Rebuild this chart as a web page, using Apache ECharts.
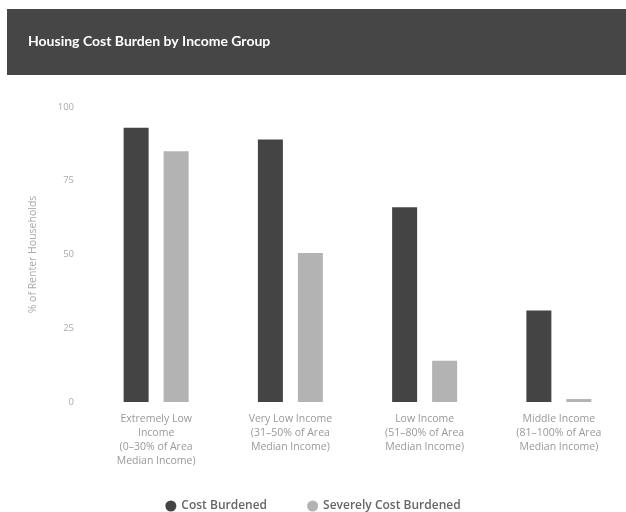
<!DOCTYPE html>
<html>
<head>
<meta charset="utf-8">
<script src="https://cdn.jsdelivr.net/npm/echarts@6/dist/echarts.min.js"></script>
<style>
  html, body { margin: 0; padding: 0; background: #fff; }
  #chart { width: 626px; height: 512px; }
</style>
</head>
<body>
<div id="chart"></div>
<script>
  // income groups along the x axis
  var categories = [
    'Extremely Low\nIncome\n(0\u201330% of Area\nMedian Income)',
    'Very Low Income\n(31\u201350% of Area\nMedian Income)',
    'Low Income\n(51\u201380% of Area\nMedian Income)',
    'Middle Income\n(81\u2013100% of Area\nMedian Income)'
  ]
  var costBurdened = [93, 89, 66, 31]
  var severelyBurdened = [85, 50.5, 14, 1]
  var yTicks = [0, 25, 50, 75, 100]

  var chart = echarts.init(document.getElementById('chart'))
  var font = '"Open Sans", Lato, sans-serif'

  var option = {
    animation: false,
    textStyle: { fontFamily: font },
    color: ['#444444', '#b3b3b3'],
    graphic: [
      {
        type: 'rect',
        shape: { x: 7, y: 9, width: 625, height: 66 },
        style: { fill: '#464646' },
        z: -1
      },
      {
        type: 'text',
        left: 28,
        top: 34,
        style: {
          text: 'Housing Cost Burden by Income Group',
          fill: '#ffffff',
          font: 'bold 14px Lato, sans-serif'
        }
      }
    ],
    legend: {
      top: 495,
      left: 'center',
      icon: 'circle',
      itemWidth: 11,
      itemHeight: 11,
      itemGap: 40,
      textStyle: { color: '#666', fontSize: 12, fontWeight: 600 },
      data: ['Cost Burdened', 'Severely Cost Burdened']
    },
    grid: {
      left: 89,
      right: -3,
      top: 107,
      bottom: 110
    },
    xAxis: {
      type: 'category',
      data: categories,
      axisLine: { show: false },
      axisTick: { show: false },
      axisLabel: {
        color: '#999',
        fontSize: 10.5,
        lineHeight: 14,
        margin: 10,
        interval: 0
      }
    },
    yAxis: {
      type: 'value',
      min: yTicks[0],
      max: yTicks[yTicks.length - 1],
      interval: 25,
      name: '% of Renter Households',
      nameLocation: 'middle',
      nameGap: 50,
      nameTextStyle: { color: '#aaa', fontSize: 10.5 },
      splitLine: { show: false },
      axisLine: { show: false },
      axisTick: { show: false },
      axisLabel: { color: '#aaa', fontSize: 9.5, margin: 15 }
    },
    series: [
      {
        name: 'Cost Burdened',
        type: 'bar',
        barWidth: 25,
        barGap: '60%',
        data: costBurdened
      },
      {
        name: 'Severely Cost Burdened',
        type: 'bar',
        barWidth: 25,
        data: severelyBurdened
      }
    ]
  }

  chart.setOption(option)
</script>
</body>
</html>
